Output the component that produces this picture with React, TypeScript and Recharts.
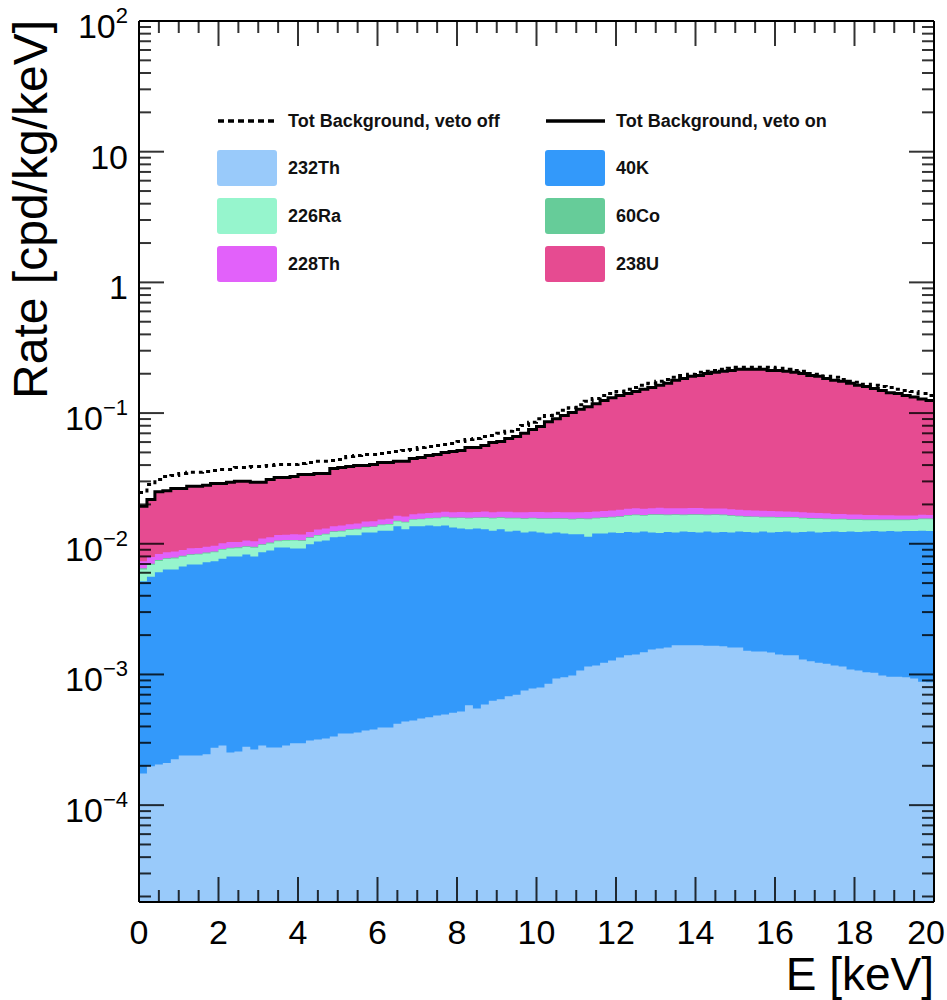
import React from 'react';
import { ComposedChart, Area, Line, XAxis, YAxis, Legend } from 'recharts';

// 100 bins of 0.2 keV
const BIN_WIDTH = 0.2;
const Y_MIN = 1.815e-5;
const Y_MAX = 100;

const th232 = [
  1.75e-4, 1.98e-4, 2.05e-4, 2.1e-4, 2.24e-4, 2.4e-4, 2.4e-4, 2.4e-4, 2.45e-4, 2.75e-4,
  2.86e-4, 2.53e-4, 2.57e-4, 2.8e-4, 2.67e-4, 2.86e-4, 2.76e-4, 2.76e-4, 2.86e-4, 2.97e-4,
  2.97e-4, 3.12e-4, 3.18e-4, 3.24e-4, 3.35e-4, 3.53e-4, 3.53e-4, 3.6e-4, 3.72e-4, 3.79e-4,
  3.93e-4, 3.93e-4, 4.2e-4, 4.36e-4, 4.45e-4, 4.6e-4, 4.7e-4, 4.85e-4, 4.94e-4, 5.1e-4,
  5.2e-4, 5.8e-4, 5.5e-4, 5.9e-4, 6.3e-4, 6.45e-4, 6.8e-4, 7.0e-4, 7.55e-4, 7.8e-4,
  7.95e-4, 8.5e-4, 9.3e-4, 9.5e-4, 9.8e-4, 1.07e-3, 1.15e-3, 1.17e-3, 1.23e-3, 1.28e-3,
  1.35e-3, 1.4e-3, 1.42e-3, 1.48e-3, 1.55e-3, 1.58e-3, 1.61e-3, 1.67e-3, 1.67e-3, 1.67e-3,
  1.67e-3, 1.66e-3, 1.66e-3, 1.64e-3, 1.61e-3, 1.61e-3, 1.52e-3, 1.5e-3, 1.5e-3, 1.47e-3,
  1.42e-3, 1.4e-3, 1.4e-3, 1.3e-3, 1.26e-3, 1.23e-3, 1.21e-3, 1.17e-3, 1.15e-3, 1.09e-3,
  1.07e-3, 1.04e-3, 1.03e-3, 9.8e-4, 9.6e-4, 9.6e-4, 9.5e-4, 9.3e-4, 8.8e-4, 8.7e-4,
];

const k40 = [
  4.98e-3, 5.4e-3, 5.85e-3, 6.15e-3, 6.14e-3, 6.46e-3, 6.71e-3, 6.71e-3, 6.96e-3, 7.08e-3,
  7.41e-3, 7.73e-3, 7.72e-3, 8.0e-3, 7.71e-3, 8.31e-3, 8.62e-3, 9.07e-3, 9.06e-3, 8.9e-3,
  8.9e-3, 9.59e-3, 1.008e-2, 1.028e-2, 1.087e-2, 1.095e-2, 1.125e-2, 1.124e-2, 1.183e-2, 1.182e-2,
  1.221e-2, 1.221e-2, 1.318e-2, 1.246e-2, 1.316e-2, 1.314e-2, 1.333e-2, 1.312e-2, 1.331e-2, 1.279e-2,
  1.258e-2, 1.232e-2, 1.255e-2, 1.231e-2, 1.197e-2, 1.226e-2, 1.172e-2, 1.19e-2, 1.145e-2, 1.162e-2,
  1.141e-2, 1.115e-2, 1.127e-2, 1.105e-2, 1.082e-2, 1.073e-2, 1.015e-2, 1.083e-2, 1.077e-2, 1.092e-2,
  1.075e-2, 1.09e-2, 1.078e-2, 1.092e-2, 1.065e-2, 1.052e-2, 1.069e-2, 1.053e-2, 1.073e-2, 1.063e-2,
  1.053e-2, 1.074e-2, 1.054e-2, 1.066e-2, 1.059e-2, 1.079e-2, 1.078e-2, 1.07e-2, 1.09e-2, 1.073e-2,
  1.088e-2, 1.1e-2, 1.08e-2, 1.1e-2, 1.114e-2, 1.097e-2, 1.109e-2, 1.123e-2, 1.115e-2, 1.131e-2,
  1.123e-2, 1.136e-2, 1.147e-2, 1.142e-2, 1.154e-2, 1.144e-2, 1.155e-2, 1.157e-2, 1.172e-2, 1.163e-2,
];

const ra226 = [
  1.21e-3, 1.32e-3, 1.33e-3, 1.27e-3, 1.34e-3, 1.27e-3, 1.25e-3, 1.32e-3, 1.22e-3, 1.25e-3,
  1.31e-3, 1.2e-3, 1.28e-3, 1.16e-3, 1.36e-3, 1.2e-3, 1.16e-3, 1.12e-3, 1.22e-3, 1.38e-3,
  1.29e-3, 1.19e-3, 1.14e-3, 1.17e-3, 1.12e-3, 1.13e-3, 1.16e-3, 1.28e-3, 1.1e-3, 1.22e-3,
  1.26e-3, 1.39e-3, 1.22e-3, 1.68e-3, 1.63e-3, 1.77e-3, 1.79e-3, 2.04e-3, 2.07e-3, 2.39e-3,
  2.62e-3, 2.71e-3, 2.62e-3, 2.84e-3, 3.02e-3, 2.84e-3, 3.22e-3, 3.02e-3, 3.29e-3, 3.22e-3,
  3.29e-3, 3.48e-3, 3.29e-3, 3.48e-3, 3.54e-3, 3.66e-3, 4.07e-3, 3.6e-3, 3.72e-3, 3.66e-3,
  3.9e-3, 4.1e-3, 4.3e-3, 4.0e-3, 4.4e-3, 4.5e-3, 4.2e-3, 4.4e-3, 4.1e-3, 4.3e-3,
  4.4e-3, 4.1e-3, 4.4e-3, 4.2e-3, 4.1e-3, 3.8e-3, 3.7e-3, 3.8e-3, 3.5e-3, 3.7e-3,
  3.5e-3, 3.4e-3, 3.6e-3, 3.3e-3, 3.1e-3, 3.3e-3, 3.1e-3, 2.9e-3, 3.0e-3, 2.8e-3,
  2.9e-3, 2.7e-3, 2.6e-3, 2.7e-3, 2.6e-3, 2.7e-3, 2.6e-3, 2.7e-3, 2.8e-3, 2.9e-3,
];

const co60 = [
  1.2e-4, 1.2e-4, 1.3e-4, 1.2e-4, 1.4e-4, 1.2e-4, 1.3e-4, 1.2e-4, 1.4e-4, 1.3e-4,
  1.2e-4, 1.4e-4, 1.3e-4, 1.2e-4, 1.4e-4, 1.3e-4, 1.5e-4, 1.3e-4, 1.4e-4, 1.3e-4,
  1.5e-4, 1.4e-4, 1.5e-4, 1.4e-4, 1.6e-4, 1.5e-4, 1.6e-4, 1.5e-4, 1.7e-4, 1.6e-4,
  1.5e-4, 1.7e-4, 1.6e-4, 1.8e-4, 1.7e-4, 1.6e-4, 1.8e-4, 1.7e-4, 1.9e-4, 1.8e-4,
  1.7e-4, 1.9e-4, 1.8e-4, 2.0e-4, 1.8e-4, 1.9e-4, 2.0e-4, 1.8e-4, 2.1e-4, 1.9e-4,
  2.0e-4, 2.2e-4, 2.0e-4, 2.1e-4, 2.2e-4, 2.0e-4, 2.1e-4, 2.2e-4, 2.0e-4, 2.1e-4,
  2.2e-4, 2.0e-4, 2.1e-4, 2.2e-4, 2.0e-4, 2.1e-4, 2.2e-4, 2.0e-4, 2.1e-4, 2.2e-4,
  2.0e-4, 2.1e-4, 2.0e-4, 2.2e-4, 2.1e-4, 2.0e-4, 2.2e-4, 2.0e-4, 2.1e-4, 2.0e-4,
  2.2e-4, 2.0e-4, 2.1e-4, 2.0e-4, 2.2e-4, 2.0e-4, 2.1e-4, 2.0e-4, 2.2e-4, 2.0e-4,
  2.1e-4, 2.0e-4, 2.2e-4, 2.0e-4, 2.1e-4, 2.0e-4, 2.2e-4, 2.0e-4, 2.1e-4, 2.0e-4,
];

const th228 = [
  8.5e-4, 8.8e-4, 8.2e-4, 8.6e-4, 9.0e-4, 8.8e-4, 9.2e-4, 9.0e-4, 9.4e-4, 9.1e-4,
  9.6e-4, 1.0e-3, 9.4e-4, 1.02e-3, 9.8e-4, 1.05e-3, 1.0e-3, 1.08e-3, 1.04e-3, 1.1e-3,
  1.12e-3, 1.08e-3, 1.15e-3, 1.18e-3, 1.14e-3, 1.22e-3, 1.2e-3, 1.25e-3, 1.3e-3, 1.26e-3,
  1.32e-3, 1.35e-3, 1.4e-3, 1.38e-3, 1.45e-3, 1.5e-3, 1.46e-3, 1.55e-3, 1.52e-3, 1.58e-3,
  1.6e-3, 1.65e-3, 1.58e-3, 1.7e-3, 1.62e-3, 1.68e-3, 1.72e-3, 1.66e-3, 1.75e-3, 1.7e-3,
  1.78e-3, 1.74e-3, 1.8e-3, 1.76e-3, 1.85e-3, 1.8e-3, 1.9e-3, 1.84e-3, 1.88e-3, 1.92e-3,
  1.95e-3, 1.9e-3, 2.0e-3, 1.95e-3, 1.9e-3, 2.02e-3, 1.96e-3, 1.9e-3, 2.0e-3, 1.94e-3,
  1.98e-3, 1.9e-3, 1.85e-3, 1.92e-3, 1.86e-3, 1.8e-3, 1.84e-3, 1.76e-3, 1.8e-3, 1.7e-3,
  1.72e-3, 1.65e-3, 1.6e-3, 1.62e-3, 1.55e-3, 1.5e-3, 1.48e-3, 1.42e-3, 1.4e-3, 1.35e-3,
  1.3e-3, 1.32e-3, 1.25e-3, 1.2e-3, 1.18e-3, 1.15e-3, 1.1e-3, 1.08e-3, 1.05e-3, 1.0e-3,
];

const u238 = [
  0.01207, 0.01388, 0.01667, 0.01689, 0.01776, 0.01753, 0.01825, 0.01821, 0.0185, 0.01926,
  0.01881, 0.01918, 0.01977, 0.01952, 0.01914, 0.01862, 0.01979, 0.02042, 0.02035, 0.02089,
  0.02214, 0.02159, 0.02166, 0.02141, 0.02408, 0.0246, 0.02488, 0.02542, 0.02493, 0.02556,
  0.02657, 0.02639, 0.02632, 0.02656, 0.02815, 0.02877, 0.03017, 0.03084, 0.03242, 0.03345,
  0.03431, 0.03705, 0.03702, 0.03886, 0.04218, 0.04309, 0.04646, 0.04884, 0.05255, 0.05749,
  0.06153, 0.06856, 0.07301, 0.07855, 0.08359, 0.08954, 0.09452, 0.1003, 0.1072, 0.113,
  0.1178, 0.1225, 0.1273, 0.1334, 0.1383, 0.1442, 0.1503, 0.1593, 0.1653, 0.1722,
  0.1752, 0.1824, 0.1864, 0.1904, 0.1936, 0.1978, 0.1979, 0.198, 0.1981, 0.1942,
  0.1943, 0.1914, 0.1874, 0.1836, 0.1767, 0.1738, 0.1669, 0.1611, 0.1581, 0.1523,
  0.1463, 0.1434, 0.1374, 0.1325, 0.1265, 0.1246, 0.1196, 0.1165, 0.1113, 0.1084,
];

const vetoOn = [
  0.0194, 0.0218, 0.025, 0.0255, 0.0265, 0.0265, 0.0275, 0.0275, 0.028, 0.0289,
  0.0289, 0.0295, 0.0301, 0.0301, 0.0296, 0.0296, 0.031, 0.0321, 0.0321, 0.0327,
  0.0339, 0.0339, 0.0345, 0.0345, 0.0377, 0.0384, 0.039, 0.0397, 0.0397, 0.0404,
  0.0419, 0.0419, 0.0427, 0.0427, 0.045, 0.0458, 0.0474, 0.0482, 0.05, 0.0509,
  0.0518, 0.0545, 0.0545, 0.0565, 0.0596, 0.0607, 0.064, 0.0663, 0.07, 0.075,
  0.079, 0.086, 0.0905, 0.096, 0.101, 0.107, 0.112, 0.118, 0.125, 0.131,
  0.136, 0.141, 0.146, 0.152, 0.157, 0.163, 0.169, 0.178, 0.184, 0.191,
  0.194, 0.201, 0.205, 0.209, 0.212, 0.216, 0.216, 0.216, 0.216, 0.212,
  0.212, 0.209, 0.205, 0.201, 0.194, 0.191, 0.184, 0.178, 0.175, 0.169,
  0.163, 0.16, 0.154, 0.149, 0.143, 0.141, 0.136, 0.133, 0.128, 0.125,
];

const vetoOff = [
  0.0247, 0.0284, 0.031, 0.0327, 0.0333, 0.0345, 0.0352, 0.0352, 0.0357, 0.0364,
  0.037, 0.037, 0.0384, 0.0384, 0.039, 0.039, 0.0397, 0.0404, 0.0404, 0.0404,
  0.0412, 0.0419, 0.0427, 0.0427, 0.0434, 0.0442, 0.0466, 0.0474, 0.0482, 0.0482,
  0.0491, 0.05, 0.0509, 0.0518, 0.0527, 0.0545, 0.0555, 0.0565, 0.0575, 0.0585,
  0.0607, 0.0628, 0.064, 0.0663, 0.0675, 0.07, 0.0725, 0.075, 0.0805, 0.085,
  0.0905, 0.096, 0.0995, 0.105, 0.11, 0.116, 0.123, 0.129, 0.136, 0.141,
  0.146, 0.152, 0.157, 0.163, 0.169, 0.175, 0.181, 0.188, 0.194, 0.198,
  0.205, 0.209, 0.212, 0.216, 0.22, 0.224, 0.224, 0.224, 0.224, 0.224,
  0.22, 0.216, 0.212, 0.209, 0.201, 0.198, 0.191, 0.188, 0.181, 0.175,
  0.172, 0.166, 0.163, 0.16, 0.157, 0.152, 0.149, 0.146, 0.141, 0.136,
];

const components = [
  { key: 'th232', name: '232Th', color: '#99CAFA', values: th232 },
  { key: 'k40', name: '40K', color: '#3399FA', values: k40 },
  { key: 'ra226', name: '226Ra', color: '#96F5CD', values: ra226 },
  { key: 'co60', name: '60Co', color: '#66CC99', values: co60 },
  { key: 'th228', name: '228Th', color: '#E261FA', values: th228 },
  { key: 'u238', name: '238U', color: '#E64B91', values: u238 },
];

const totals = [
  { key: 'vetoOff', name: 'Tot Background, veto off', dash: '4 4', values: vetoOff },
  { key: 'vetoOn', name: 'Tot Background, veto on', dash: undefined, values: vetoOn },
];

// stack the components by hand (log axis), then close the last bin at 20 keV
const rows: any[] = vetoOn.map((_, i) => {
  const row: any = { e: i * BIN_WIDTH };
  let sum = 0;
  components.forEach((c) => {
    sum += c.values[i];
    row[c.key] = sum;
  });
  totals.forEach((t) => (row[t.key] = t.values[i]));
  return row;
});
rows.push({ ...rows[rows.length - 1], e: vetoOn.length * BIN_WIDTH });

const X_TICKS = Array.from({ length: 41 }, (_, i) => i * 0.5);
const Y_TICKS: number[] = [];
for (let d = -5; d <= 1; d++) {
  for (let m = 1; m <= 9; m++) {
    const v = m * Math.pow(10, d);
    if (v >= Y_MIN) Y_TICKS.push(v);
  }
}
Y_TICKS.push(Y_MAX);

const FONT = '"Liberation Sans", Arial, Helvetica, sans-serif';
const TICK = { stroke: '#000', strokeOpacity: 0.8, strokeWidth: 2 };

const isDecade = (v: number) => {
  const lg = Math.log10(v);
  return Math.abs(lg - Math.round(lg)) < 1e-6;
};
const isMajorX = (v: number) => Math.abs(v / 2 - Math.round(v / 2)) < 1e-6;

const LeftTick = ({ x, y, payload }: any) => {
  const v = payload.value;
  const major = isDecade(v);
  const exp = Math.round(Math.log10(v));
  let label: any = null;
  if (major) {
    label =
      exp === 0 ? '1' : exp === 1 ? '10' : (
        <>
          <tspan>10</tspan>
          <tspan dy={-15} fontSize={22}>{exp < 0 ? '\u2212' + -exp : String(exp)}</tspan>
        </>
      );
  }
  return (
    <g>
      <line x1={x} x2={x + (major ? 25 : 12)} y1={y} y2={y} {...TICK} />
      {major && (
        <text x={x - 11} y={y + 17} textAnchor="end" fontSize={34} fill="#000" fontFamily={FONT}>
          {label}
        </text>
      )}
    </g>
  );
};

const RightTick = ({ x, y, payload }: any) => {
  const major = isDecade(payload.value);
  return <line x1={x} x2={x - (major ? 25 : 12)} y1={y} y2={y} {...TICK} />;
};

const BottomTick = ({ x, y, payload }: any) => {
  const major = isMajorX(payload.value);
  // last label would run off the page: pin its right edge inside
  const last = payload.value >= 20;
  return (
    <g>
      <line x1={x} x2={x} y1={y} y2={y - (major ? 25 : 12)} {...TICK} />
      {major && (
        <text
          x={last ? 945 : x}
          y={y + 42}
          textAnchor={last ? 'end' : 'middle'}
          fontSize={34}
          fill="#000"
          fontFamily={FONT}
        >
          {payload.value}
        </text>
      )}
    </g>
  );
};

const TopTick = ({ x, y, payload }: any) => {
  const major = isMajorX(payload.value);
  return <line x1={x} x2={x} y1={y} y2={y + (major ? 25 : 12)} {...TICK} />;
};

const RateTitle = () => (
  <text transform="translate(47, 20) rotate(-90)" textAnchor="end" fontSize={48} fill="#000" fontFamily={FONT}>
    Rate [cpd/kg/keV]
  </text>
);

const EnergyTitle = () => (
  <text x={934} y={990} textAnchor="end" fontSize={46} fill="#000" fontFamily={FONT}>
    E [keV]
  </text>
);

// legend drawn in chart pixels, two columns, row-major like the stack order
const LEG_COLS = [217, 545];
const LegendBlock = () => (
  <div style={{ position: 'relative', width: 947, height: 300, fontFamily: FONT, fontWeight: 'bold', fontSize: 18, color: '#111' }}>
    {totals.map((t, i) => (
      <div key={t.key}>
        <svg style={{ position: 'absolute', left: LEG_COLS[i], top: 112 }} width={62} height={18}>
          <line x1={1} x2={60} y1={9} y2={9} stroke="#000" strokeWidth={3.5} strokeDasharray={t.dash ? '6 4' : undefined} />
        </svg>
        <div style={{ position: 'absolute', left: LEG_COLS[i] + 71, top: 110, lineHeight: '22px', whiteSpace: 'nowrap' }}>{t.name}</div>
      </div>
    ))}
    {components.map((c, i) => {
      const col = LEG_COLS[i % 2];
      const top = 150 + Math.floor(i / 2) * 48;
      return (
        <div key={c.key}>
          <div style={{ position: 'absolute', left: col, top, width: 60, height: 36, background: c.color, borderRadius: 3 }} />
          <div style={{ position: 'absolute', left: col + 71, top: top + 7, lineHeight: '22px' }}>{c.name}</div>
        </div>
      );
    })}
  </div>
);

// axes get 1px of room each (a 0-sized axis is not drawn); margins make the frame 139..934 x 21..902
export default function App() {
  return (
    <div style={{ position: 'absolute', left: 0, top: 0, width: 947, height: 1000, background: '#fff', fontFamily: FONT }}>
      <ComposedChart width={947} height={1000} data={rows} margin={{ top: 20, right: 12, bottom: 97, left: 138 }}>
        {[...components].reverse().map((c) => (
          <Area
            key={c.key}
            xAxisId="b"
            yAxisId="l"
            type="stepAfter"
            dataKey={c.key}
            name={c.name}
            baseValue="dataMin"
            stroke="none"
            fill={c.color}
            fillOpacity={1}
            dot={false}
            activeDot={false}
            isAnimationActive={false}
          />
        ))}
        {totals.map((t) => (
          <Line
            key={t.key}
            xAxisId={t.dash ? 't' : 'b'}
            yAxisId={t.dash ? 'r' : 'l'}
            type="stepAfter"
            dataKey={t.key}
            name={t.name}
            stroke="#000"
            strokeWidth={3}
            strokeDasharray={t.dash}
            dot={false}
            activeDot={false}
            isAnimationActive={false}
          />
        ))}
        <XAxis
          xAxisId="b"
          dataKey="e"
          type="number"
          domain={[0, 20]}
          allowDataOverflow
          ticks={X_TICKS}
          interval={0}
          height={1}
          tickSize={0}
          tickMargin={0}
          tickLine={false}
          axisLine={{ stroke: '#000', strokeWidth: 2 }}
          tick={<BottomTick />}
          label={<EnergyTitle />}
        />
        <XAxis
          xAxisId="t"
          dataKey="e"
          orientation="top"
          type="number"
          domain={[0, 20]}
          allowDataOverflow
          ticks={X_TICKS}
          interval={0}
          height={1}
          tickSize={0}
          tickMargin={0}
          tickLine={false}
          axisLine={{ stroke: '#000', strokeWidth: 2 }}
          tick={<TopTick />}
        />
        <YAxis
          yAxisId="l"
          type="number"
          scale="log"
          domain={[Y_MIN, Y_MAX]}
          allowDataOverflow
          ticks={Y_TICKS}
          interval={0}
          width={1}
          tickSize={0}
          tickMargin={0}
          tickLine={false}
          axisLine={{ stroke: '#000', strokeWidth: 2 }}
          tick={<LeftTick />}
          label={<RateTitle />}
        />
        <YAxis
          yAxisId="r"
          orientation="right"
          type="number"
          scale="log"
          domain={[Y_MIN, Y_MAX]}
          allowDataOverflow
          ticks={Y_TICKS}
          interval={0}
          width={1}
          tickSize={0}
          tickMargin={0}
          tickLine={false}
          axisLine={{ stroke: '#000', strokeWidth: 2 }}
          tick={<RightTick />}
        />
        <Legend
          layout="vertical"
          align="center"
          verticalAlign="middle"
          wrapperStyle={{ left: 0, top: 0, width: 947, height: 300 }}
          content={<LegendBlock />}
        />
      </ComposedChart>
    </div>
  );
}
